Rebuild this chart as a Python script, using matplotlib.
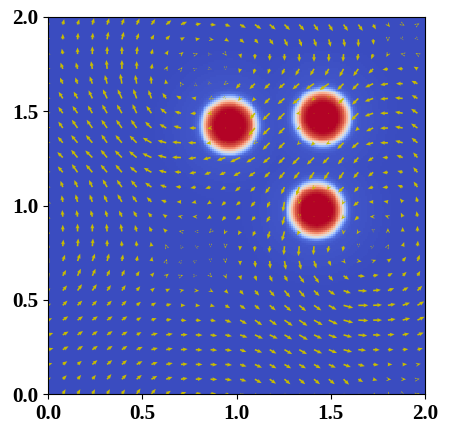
import numpy as np
import matplotlib
matplotlib.use('Agg')
import matplotlib.pyplot as plt

plt.rcParams['font.family'] = ['Liberation Serif', 'DejaVu Serif']

tick_values = [0.0, 0.5, 1.0, 1.5, 2.0]
tick_labels = ['0.0', '0.5', '1.0', '1.5', '2.0']

# droplets
droplet_x = [0.963, 1.459, 1.427]
droplet_y = [1.427, 1.470, 0.976]
# radial profile of one droplet (distance, field value)
profile_r = [0.00, 0.08, 0.095, 0.114, 0.122, 0.129, 0.136, 0.142, 0.150, 0.159, 0.171, 0.195, 0.30, 0.45]
profile_v = [1.00, 1.00, 0.97, 0.88, 0.78, 0.68, 0.57, 0.50, 0.36, 0.20, 0.07, 0.025, 0.012, 0.0]

# arrow grid, rows listed from the top (y=1.96) to the bottom (y=0)
grid_x = np.linspace(0, 1.96, 26)
grid_y = np.linspace(1.96, 0, 26)

# arrow direction in degrees, per row
angle_rows = [
	[100,75,72,75,72,70,65,55,40,25,10,-5,-20,-30,-35,-40,-45,-50,-55,-58,-55,-55,-60,-50,-30,30],
	[110,90,85,85,80,75,70,60,45,30,10,-10,-30,-40,-50,-55,-65,-70,-72,-75,-80,-90,-85,-90,-60,-45],
	[120,100,90,90,90,90,85,75,60,40,15,0,-50,-75,-90,-90,-90,-90,-90,-90,-95,-100,-110,-120,170,150],
	[125,110,105,100,95,90,90,80,65,50,20,-20,-90,-105,-105,-110,-115,-120,-120,-120,-118,-125,-135,-170,175,150],
	[130,115,110,110,105,100,100,95,100,120,90,-20,-140,-130,-135,-135,-140,-140,-145,-145,-135,-135,-155,-170,180,155],
	[130,122,120,115,115,115,110,110,125,150,170,-150,-45,-130,-135,-135,-140,-140,-135,-90,-135,-135,-160,-175,175,150],
	[135,125,125,120,120,120,115,125,140,165,-175,-170,0,0,-130,-135,-135,-170,0,0,0,-135,-160,180,170,145],
	[135,125,125,125,125,125,125,135,150,165,180,-170,0,0,-130,-135,-135,-155,0,0,0,-135,-155,-178,170,145],
	[135,130,130,130,125,130,135,150,165,175,180,-170,-150,0,-135,-135,-135,-135,-135,-150,-135,-140,-165,180,165,140],
	[135,135,130,135,130,135,140,155,165,178,-170,-165,-160,-155,-150,-140,-135,-135,-135,-135,-130,-130,-145,180,160,130],
	[135,130,125,130,130,130,140,150,165,175,-170,-160,-155,-150,-145,-135,-130,-130,-125,-125,-125,-130,-140,-175,165,130],
	[120,110,115,115,120,125,130,145,160,175,-170,-165,-150,-140,-135,-125,-115,-110,-120,-120,-135,-130,-165,-175,160,125],
	[115,100,105,110,115,120,125,135,160,180,-165,-145,-135,-140,-130,-115,-100,-100,0,0,-120,-140,180,170,130,105],
	[100,95,100,105,105,115,120,130,145,170,180,-150,-130,-145,-130,-120,-105,-100,0,0,-130,-135,180,160,115,100],
	[90,90,90,90,95,100,105,115,135,170,180,-135,-115,-120,-115,-105,-105,-120,0,0,-100,-120,-90,90,90,90],
	[85,85,85,85,90,95,95,100,110,120,150,-90,-95,-95,-95,-95,-95,-95,-95,-100,-100,-90,30,60,70,85],
	[70,70,70,70,75,80,80,80,70,60,30,-80,-85,-90,-85,-85,-80,-78,-72,-65,-50,-10,20,35,50,70],
	[60,60,65,65,65,65,60,50,40,20,0,-45,-70,-75,-70,-65,-60,-55,-55,-50,-35,-5,10,30,45,60],
	[45,50,55,55,55,55,50,40,25,10,-5,-30,-45,-50,-50,-50,-50,-50,-45,-35,-20,-3,5,20,30,45],
	[30,45,45,45,45,45,40,30,15,0,-5,-15,-30,-35,-40,-40,-40,-40,-35,-30,-15,0,3,10,20,30],
	[25,35,35,35,35,35,30,20,10,-5,-5,-10,-20,-30,-35,-35,-35,-35,-30,-25,-15,-3,0,8,15,25],
	[20,30,35,35,35,30,30,15,10,3,-2,-8,-12,-20,-25,-25,-30,-30,-25,-20,-15,-5,-2,5,12,20],
	[15,30,35,35,35,35,25,15,12,5,-3,-5,-8,-20,-22,-30,-30,-30,-25,-22,-15,-5,-2,0,5,15],
	[15,35,40,40,40,40,30,20,12,5,0,-3,-5,-18,-25,-30,-30,-30,-30,-25,-20,-15,-5,0,3,12],
	[30,45,50,50,50,45,40,30,20,10,5,-2,-8,-18,-30,-35,-40,-40,-40,-40,-45,-30,-15,-5,0,10],
	[45,60,60,60,60,55,55,50,35,20,10,5,-15,-25,-30,-40,-45,-50,-50,-55,-55,-60,-60,-50,-30,15],
]

# arrow speed per row
speed_rows = [
	[4,5,5,6,6,6,6,6,6,6,5,5,5,6,7,7,7,7,7,7,7,7,5,3,2,2],
	[4,5,6,6,7,7,6,5,5,4,4,3,4,5,5,6,7,7,7,7,7,7,5,2,1,1],
	[3,5,6,7,7,7,7,5,4,3,2,1,2,4,5,6,6,7,7,7,7,6,5,3,2,2],
	[3,6,6,7,8,8,7,5,3,2,1,1,1,4,5,5,6,7,7,7,8,8,6,5,5,4],
	[3,6,6,7,8,9,8,7,4,2,1,1,2,6,7,7,7,8,9,10,8,8,8,7,6,6],
	[3,7,7,8,9,9,9,8,6,5,4,2,1,3,4,7,8,8,3,1,7,8,8,7,7,6],
	[3,7,8,8,9,9,9,8,7,6,5,3,0.5,0.5,7,9,9,3,0.5,0.5,0.5,9,8,7,7,7],
	[3,7,9,9,9,9,9,8,7,7,6,3,0.5,0.5,9,9,8,3,0.5,0.5,0.5,4,7,7,7,7],
	[3,7,9,9,9,9,9,9,8,8,7,4,0.5,0.5,2,9,8,3,4,3,8,8,7,7,7,7],
	[3,7,9,9,9,9,9,9,8,8,7,7,8,10,9,8,8,9,9,8,8,7,6,5,6,6],
	[3,7,9,9,9,9,8,8,7,6,6,6,6,7,7,7,8,8,8,8,8,7,6,5,5,6],
	[3,6,7,7,8,8,8,7,6,5,5,5,5,6,6,7,7,8,3,3,7,6,5,5,5,6],
	[2,6,7,7,7,8,7,6,5,4,4,4,5,5,6,6,9,2,0.5,0.5,3,6,4,4,4,5],
	[2,6,6,6,6,6,6,5,4,3,3,4,5,5,5,6,8,1,0.5,0.5,3,5,3,3,4,5],
	[2,6,7,7,7,7,6,5,4,2,1,2,3,4,5,7,9,4,0.5,0.5,3,3,1,3,4,5],
	[3,6,7,7,6,5,5,4,2,1,1,1,2,4,5,6,8,9,8,6,5,1,1,2,4,5],
	[3,6,7,7,7,6,5,4,2,1,1,1,2,4,6,7,8,8,7,5,3,3,3,4,5,6],
	[3,6,7,7,6,6,5,4,3,2,1,2,3,4,5,6,6,8,8,6,6,6,5,5,5,5],
	[3,6,7,7,6,6,5,4,4,3,3,3,4,5,6,7,8,8,7,7,7,8,7,6,6,6],
	[3,6,6,6,6,6,5,5,5,4,4,4,5,6,6,7,8,8,8,8,9,9,8,7,7,7],
	[4,6,6,6,6,6,5,5,5,5,5,5,6,7,8,8,9,9,9,9,9,9,8,7,7,7],
	[5,6,6,6,6,6,5,6,6,6,6,6,6,7,8,8,8,9,8,8,8,8,7,6,6,6],
	[5,6,6,6,6,6,6,6,6,6,6,6,6,6,7,7,8,8,8,8,8,7,6,5,5,5],
	[4,5,5,6,6,6,6,6,6,6,6,6,6,6,7,7,7,7,7,7,7,6,5,4,4,3],
	[3,5,5,5,6,6,6,6,6,6,6,6,6,6,7,7,7,7,7,7,7,5,4,3,3,2],
	[2,5,5,5,5,5,6,6,5,5,5,5,5,6,7,7,7,7,7,7,6,5,4,3,2,2],
]

fig = plt.figure(figsize=(4.49, 4.34), dpi=100)
ax = fig.add_axes([48 / 449, 1 - 394 / 434, 377 / 449, 377 / 434])

# background field
cells = np.linspace(0, 2, 200)
xx, yy = np.meshgrid(cells, cells)
field = np.zeros_like(xx)
for cx, cy in zip(droplet_x, droplet_y):
	dist = np.hypot(xx - cx, yy - cy)
	field = np.maximum(field, np.interp(dist, profile_r, profile_v))
ax.imshow(field, origin='lower', extent=[0, 2, 0, 2], cmap='coolwarm', vmin=0, vmax=1,
	interpolation='nearest', aspect='auto')

# arrows
angle = np.radians(np.array(angle_rows, dtype=float))
speed = np.array(speed_rows, dtype=float)
X, Y = np.meshgrid(grid_x, grid_y)
ax.quiver(X, Y, speed * np.cos(angle), speed * np.sin(angle), color='#c8bc00', angles='uv',
	units='dots', scale_units='dots', scale=0.9, width=1.6, headwidth=2.5, headlength=3.0,
	headaxislength=2.7, minlength=0.4, minshaft=0.3, pivot='tail')

ax.set_xlim(0, 2)
ax.set_ylim(0, 2)
ax.set_xticks(tick_values)
ax.set_yticks(tick_values)
ax.set_xticklabels(tick_labels, fontsize=15.2, fontweight='bold')
ax.set_yticklabels(tick_labels, fontsize=15.2, fontweight='bold')
ax.tick_params(length=3.5, width=0.8, pad=3.5)

fig.savefig('out.png', dpi=100)
